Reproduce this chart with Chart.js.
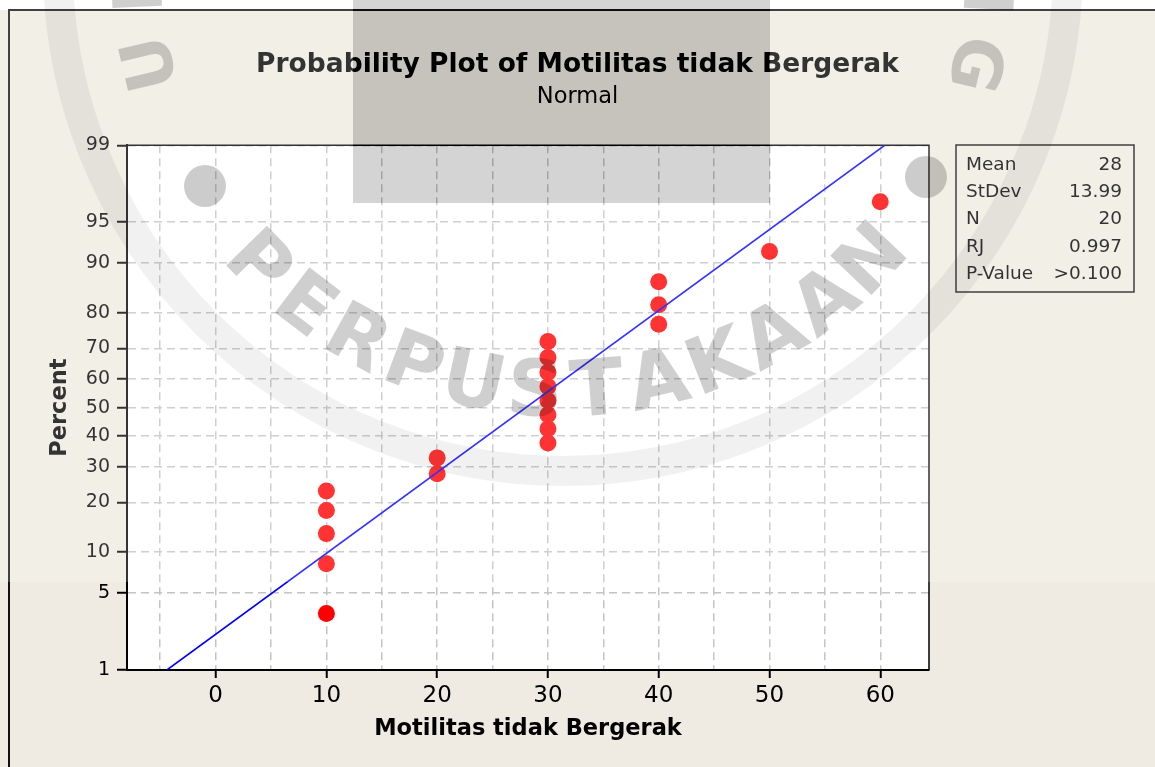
<!DOCTYPE html>
<html><head><meta charset="utf-8">
<script src="https://cdn.jsdelivr.net/npm/chart.js@4.4.1/dist/chart.umd.min.js"></script>
<style>html,body{margin:0;padding:0;background:#fff;}canvas{display:block;}</style>
</head><body>
<canvas id="c" width="1155" height="767"></canvas>
<script>
// ---- data ----
const xValues = [10,10,10,10,10,20,20,30,30,30,30,30,30,30,30,40,40,40,50,60];
const percentValues = [3.4,8.3,13.2,18.1,23.0,27.9,32.8,37.7,42.6,47.5,52.5,57.4,62.3,67.2,72.1,77.0,81.9,86.8,91.7,96.6];
const fitLineX = [-4.4, 60.4];
const fitLinePercent = [1, 99];
const percentTicks = [1,5,10,20,30,40,50,60,70,80,90,95,99];
const xGridTicks = [-5,0,5,10,15,20,25,30,35,40,45,50,55,60];
const xTickLabels = [0,10,20,30,40,50,60];
const statLabels = ['Mean','StDev','N','RJ','P-Value'];
const statValues = ['28','13.99','20','0.997','>0.100'];
const titleText = 'Probability Plot of Motilitas tidak Bergerak';
const subtitleText = 'Normal';
const xTitle = 'Motilitas tidak Bergerak';
const yTitle = 'Percent';
const watermarkBottom = 'PERPUSTAKAAN';

const FONT = '"DejaVu Sans", "Noto Sans", sans-serif';

// inverse normal CDF (Acklam)
function probit(p){
  const a=[-3.969683028665376e+01,2.209460984245205e+02,-2.759285104469687e+02,1.383577518672690e+02,-3.066479806614716e+01,2.506628277459239e+00];
  const b=[-5.447609879822406e+01,1.615858368580409e+02,-1.556989798598866e+02,6.680131188771972e+01,-1.328068155288572e+01];
  const c=[-7.784894002430293e-03,-3.223964580411365e-01,-2.400758277161838e+00,-2.549732539343734e+00,4.374664141464968e+00,2.938163982698783e+00];
  const d=[7.784695709041462e-03,3.224671290700398e-01,2.445134137142996e+00,3.754408661907416e+00];
  const pl=0.02425, ph=1-pl; let q,r;
  if(p<pl){q=Math.sqrt(-2*Math.log(p));return (((((c[0]*q+c[1])*q+c[2])*q+c[3])*q+c[4])*q+c[5])/((((d[0]*q+d[1])*q+d[2])*q+d[3])*q+1);}
  if(p<=ph){q=p-0.5;r=q*q;return (((((a[0]*r+a[1])*r+a[2])*r+a[3])*r+a[4])*r+a[5])*q/(((((b[0]*r+b[1])*r+b[2])*r+b[3])*r+b[4])*r+1);}
  q=Math.sqrt(-2*Math.log(1-p));return -(((((c[0]*q+c[1])*q+c[2])*q+c[3])*q+c[4])*q+c[5])/((((d[0]*q+d[1])*q+d[2])*q+d[3])*q+1);
}

// normal-probability scale
class ProbitScale extends Chart.LinearScale {
  determineDataLimits(){ this.min = this.options.min; this.max = this.options.max; }
  buildTicks(){ this.start = this.min; this.end = this.max; return percentTicks.map(v => ({value: v})); }
  configure(){ super.configure(); this._zMin = probit(this.min/100); this._zMax = probit(this.max/100); }
  getPixelForValue(v){
    const z = probit(v/100);
    return this.getPixelForDecimal((z - this._zMin) / (this._zMax - this._zMin));
  }
}
ProbitScale.id = 'probit';
ProbitScale.defaults = {};
Chart.register(ProbitScale);

function drawWatermark(ctx, W){
  ctx.save();
  // haze over upper part (except grey block)
  ctx.beginPath(); ctx.rect(0,0,W,582); ctx.rect(353,0,417,203);
  ctx.fillStyle='rgba(255,255,255,0.2)'; ctx.fill('evenodd');
  ctx.fillStyle='rgba(0,0,0,0.17)'; ctx.fillRect(353,0,417,203);
  const cx=563, cy=-34;
  // ring
  ctx.beginPath(); ctx.arc(cx,cy,505,0,Math.PI*2);
  ctx.lineWidth=30; ctx.strokeStyle='rgba(0,0,0,0.055)'; ctx.stroke();
  // dots
  ctx.fillStyle='rgba(0,0,0,0.2)';
  [[205,186],[926,177]].forEach(p=>{ctx.beginPath();ctx.arc(p[0],p[1],21,0,Math.PI*2);ctx.fill();});
  // bottom arc letters
  ctx.textAlign='center'; ctx.textBaseline='middle';
  ctx.font='bold 78px "DejaVu Sans", sans-serif';
  ctx.fillStyle='rgba(0,0,0,0.19)';
  const n = watermarkBottom.length, a0=135.6, a1=43.6, R=430;
  for(let i=0;i<n;i++){
    const ang=(a0+(a1-a0)*i/(n-1))*Math.PI/180;
    ctx.save();
    ctx.translate(cx+R*Math.cos(ang), cy+R*Math.sin(ang));
    ctx.rotate(ang-Math.PI/2);
    ctx.fillText(watermarkBottom[i],0,0);
    ctx.restore();
  }
  // top arc letters (partially visible)
  ctx.font='bold 68px "DejaVu Sans", sans-serif';
  [['U',166.7],['N',177.5],['N',2.8],['G',13.4]].forEach(([ch,deg])=>{
    const ang=deg*Math.PI/180;
    ctx.save();
    ctx.translate(cx+420*Math.cos(ang), cy+420*Math.sin(ang));
    ctx.rotate(ang+Math.PI/2);
    ctx.fillText(ch,0,0);
    ctx.restore();
  });
  ctx.restore();
}

const framePlugin = {
  id:'frame',
  beforeDraw(chart){
    const {ctx, chartArea:a, width:W, height:H} = chart;
    ctx.save();
    ctx.fillStyle='#efebe2'; ctx.fillRect(0,0,W,H);
    ctx.fillStyle='#ffffff'; ctx.fillRect(0,0,W,10);
    ctx.fillRect(a.left,a.top,a.right-a.left,a.bottom-a.top);
    ctx.strokeStyle='#111'; ctx.lineWidth=2;
    ctx.beginPath(); ctx.moveTo(9,H); ctx.lineTo(9,10); ctx.lineTo(W,10); ctx.stroke();
    ctx.restore();
  },
  beforeDatasetsDraw(chart){
    const {ctx, chartArea:a} = chart;
    ctx.save(); ctx.strokeStyle='#000'; ctx.lineWidth=1.5;
    ctx.beginPath(); ctx.moveTo(a.left,a.top); ctx.lineTo(a.right,a.top); ctx.lineTo(a.right,a.bottom); ctx.stroke();
    ctx.restore();
  },
  afterDraw(chart){
    const ctx = chart.ctx;
    // statistics box
    ctx.save();
    ctx.strokeStyle='#111'; ctx.lineWidth=1.5;
    ctx.strokeRect(956,145,178,147);
    ctx.font='18.5px ' + FONT; ctx.fillStyle='#000'; ctx.textBaseline='alphabetic';
    statLabels.forEach((lab,i)=>{
      const y = 170 + i*27.2;
      ctx.textAlign='left'; ctx.fillText(lab,966,y);
      ctx.textAlign='right'; ctx.fillText(statValues[i],1122,y);
    });
    ctx.restore();
    drawWatermark(ctx, chart.width);
  }
};

new Chart(document.getElementById('c'), {
  type:'scatter',
  data:{ datasets:[
    { label:'Fit', data: fitLineX.map((x,i)=>({x:x, y:fitLinePercent[i]})), showLine:true,
      borderColor:'#0000ff', borderWidth:1.6, pointRadius:0, order:0 },
    { label:'Data', data: xValues.map((x,i)=>({x:x, y:percentValues[i]})),
      pointRadius:8.5, pointHoverRadius:8.5, backgroundColor:'#ff0000', borderColor:'#ff0000', pointBorderWidth:0, order:1 }
  ]},
  options:{
    responsive:false, animation:false, devicePixelRatio:1,
    layout:{ padding:0 },
    plugins:{
      legend:{display:false}, tooltip:{enabled:false},
      title:{ display:true, text:titleText, color:'#000', font:{family:FONT, size:26.5, weight:'bold', lineHeight:1.2}, padding:{top:49.5, bottom:2.4} },
      subtitle:{ display:true, text:subtitleText, color:'#000', font:{family:FONT, size:22.5, weight:'normal', lineHeight:1.2}, padding:{top:0, bottom:34.6} }
    },
    scales:{
      x:{ type:'linear', min:-8, max:64.4,
        afterFit: s => { s.height = 97; },
        afterBuildTicks: s => { s.ticks = xGridTicks.map(v => ({value:v})); },
        ticks:{ autoSkip:false, maxRotation:0, color:'#000', padding:4, font:{family:FONT, size:23},
          callback: v => xTickLabels.includes(v) ? String(v) : '' },
        grid:{ color:'#c4c4c4', lineWidth:1.5, tickLength:8, tickWidth:2, tickBorderDash:[],
          tickColor: c => (c.tick && xTickLabels.includes(c.tick.value)) ? '#000' : 'rgba(0,0,0,0)' },
        border:{ display:true, color:'#000', width:2, dash:[8,5] },
        title:{ display:true, text:xTitle, color:'#000', font:{family:FONT, size:22.5, weight:'bold', lineHeight:1.2}, padding:{top:0, bottom:24} }
      },
      y:{ type:'probit', min:1, max:99, position:'left',
        afterFit: s => { s.width = 127; },
        ticks:{ autoSkip:false, color:'#000', padding:7, font:{family:FONT, size:19}, callback: v => String(v) },
        grid:{ color:'#c4c4c4', lineWidth:1.5, tickLength:10, tickWidth:2, tickColor:'#000', tickBorderDash:[] },
        border:{ display:true, color:'#000', width:2, dash:[8,5] },
        title:{ display:true, text:yTitle, color:'#000', font:{family:FONT, size:22.5, weight:'bold', lineHeight:1.2}, padding:{top:46.5, bottom:0} }
      },
      yRight:{ type:'linear', position:'right', display:true,
        afterFit: s => { s.width = 226; },
        ticks:{ display:false }, grid:{ display:false, drawTicks:false }, border:{ display:false } }
    }
  },
  plugins:[framePlugin]
});
</script>
</body></html>
